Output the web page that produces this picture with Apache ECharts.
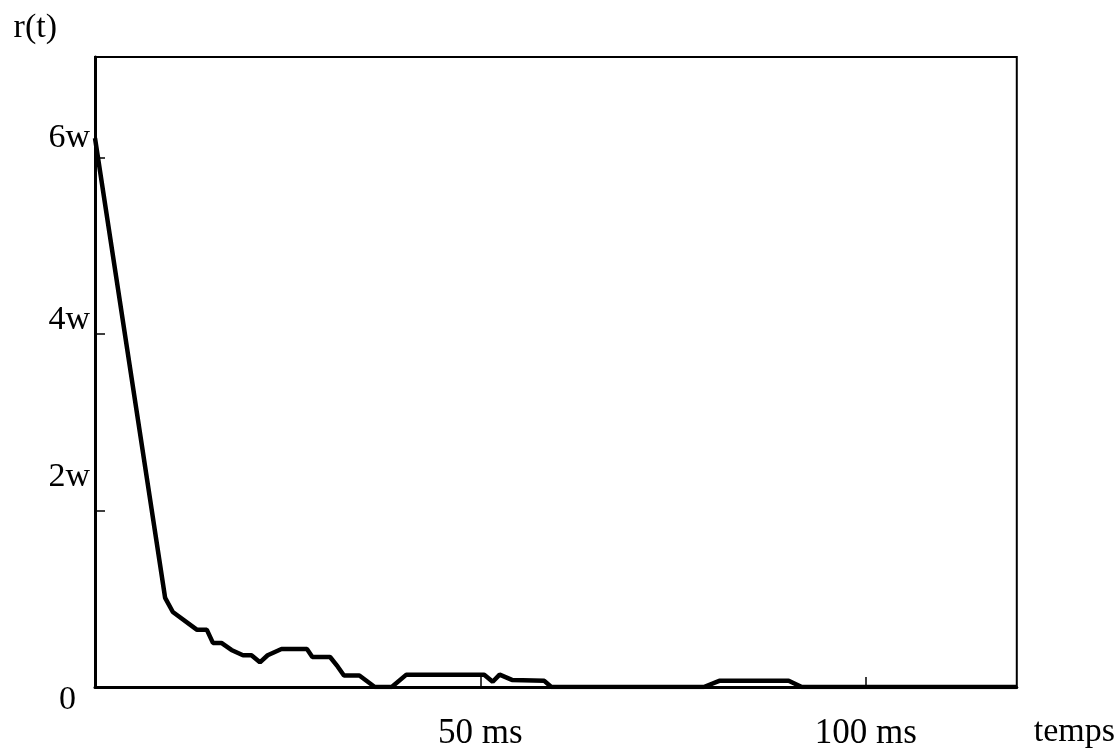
<!DOCTYPE html>
<html>
<head>
<meta charset="utf-8">
<script src="https://cdn.jsdelivr.net/npm/echarts@6/dist/echarts.min.js"></script>
<style>html,body{margin:0;padding:0;background:#fff;}#c{width:1118px;height:753px;}</style>
</head>
<body>
<div id="c"></div>
<script>
// time (ms)
var tValues = [0, 9.1, 10.1, 13.2, 14.5, 15.3, 16.4, 17.7, 19.2, 20.3, 21.4, 22.4, 24.2, 27.5, 28.2, 30.5, 31.5, 32.3, 34.3, 36.3, 38.5, 40.4, 50.5, 51.6, 52.5, 54.1, 58.3, 59.2, 79.0, 81.0, 90.0, 91.7, 119.6];
// r(t) in units of w
var rValues = [6.22, 1.01, 0.85, 0.65, 0.65, 0.5, 0.5, 0.42, 0.36, 0.36, 0.28, 0.36, 0.43, 0.43, 0.34, 0.34, 0.23, 0.13, 0.13, 0, 0, 0.14, 0.14, 0.06, 0.14, 0.08, 0.07, 0, 0, 0.07, 0.07, 0, 0];
var xTickLabels = {50: '50 ms', 100: '100 ms'};
var yTickLabels = {0: '0', 2: '2w', 4: '4w', 6: '6w'};

var series = tValues.map(function (t, i) { return [t, rValues[i]]; });
var font = '"Liberation Serif", "DejaVu Serif", serif';
var yFs = 34;

var chart = echarts.init(document.getElementById('c'));
chart.setOption({
  animation: false,
  backgroundColor: '#fff',
  grid: {left: 95, right: 100, top: 57, bottom: 66, show: true, borderColor: '#000', borderWidth: 2, containLabel: false},
  xAxis: {
    type: 'value', min: 0, max: 119.6, interval: 50,
    name: 'temps', nameLocation: 'end', nameGap: 17,
    nameTextStyle: {fontFamily: font, fontSize: 34, color: '#000', align: 'left', verticalAlign: 'top', padding: [28, 0, 0, 0]},
    axisLine: {show: true, lineStyle: {color: '#000', width: 3}},
    axisTick: {show: true, inside: true, length: 10, lineStyle: {color: '#000', width: 1.5}},
    splitLine: {show: false},
    axisLabel: {
      margin: 29, fontFamily: font, fontSize: 35, color: '#000',
      showMinLabel: false, showMaxLabel: false,
      formatter: function (v) { return xTickLabels[v] || ''; }
    }
  },
  yAxis: {
    type: 'value', min: 0, max: 7.14, interval: 2,
    name: 'r(t)', nameLocation: 'end', nameGap: 12,
    nameTextStyle: {fontFamily: font, fontSize: 34, color: '#000', align: 'right', padding: [0, 38, 0, 0]},
    axisLine: {show: true, lineStyle: {color: '#000', width: 3}},
    axisTick: {show: true, inside: true, length: 10, lineStyle: {color: '#000', width: 1.5}},
    splitLine: {show: false},
    axisLabel: {
      margin: 5, fontFamily: font, fontSize: yFs, color: '#000',
      showMaxLabel: false,
      formatter: function (v) {
        var s = yTickLabels[v];
        if (s === undefined) return '';
        return '{l' + v + '|' + s + '}';
      },
      rich: {
        l0: {fontFamily: font, fontSize: yFs, color: '#000', padding: [26, 14, 0, 0]},
        l2: {fontFamily: font, fontSize: yFs, color: '#000', padding: [0, 0, 66, 0]},
        l4: {fontFamily: font, fontSize: yFs, color: '#000', padding: [0, 0, 28, 0]},
        l6: {fontFamily: font, fontSize: yFs, color: '#000', padding: [0, 0, 40, 0]}
      }
    }
  },
  series: [{
    type: 'line', data: series, showSymbol: false, smooth: false,
    lineStyle: {color: '#000', width: 4.5}, z: 3
  }]
});
</script>
</body>
</html>
